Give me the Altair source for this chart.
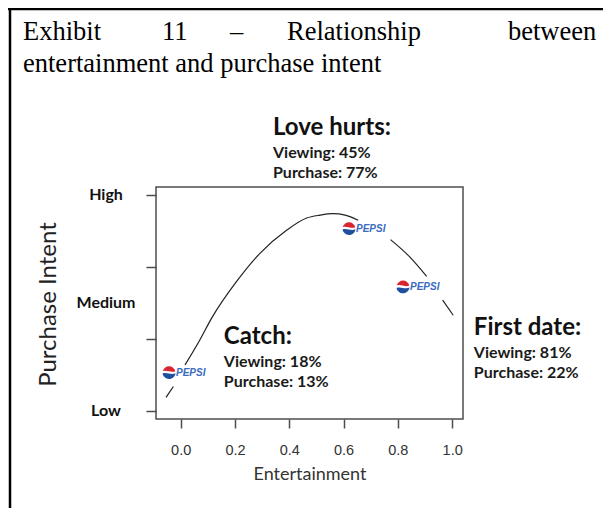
import altair as alt
import pandas as pd

# ---- data (y units: Low = 0 ... High = 3) ----
curve_seg = [1, 1, 2, 2, 2, 2, 2, 2, 2, 2, 2, 2, 2, 3, 3, 3, 4, 4]
curve_x = [-0.054, -0.027, 0.016, 0.071, 0.114, 0.206, 0.292, 0.390, 0.464,
           0.513, 0.561, 0.606, 0.654, 0.773, 0.841, 0.906, 0.965, 1.004]
curve_y = [0.19, 0.34, 0.64, 0.99, 1.29, 1.80, 2.19, 2.51, 2.68,
           2.72, 2.74, 2.72, 2.65, 2.38, 2.15, 1.87, 1.54, 1.33]

ads = ["Catch", "Love hurts", "First date"]
viewing = [18, 45, 81]
purchase = [13, 77, 22]
logo_x = [-0.043, 0.620, 0.819]
logo_y = [0.53, 2.53, 1.72]

y_tick_values = [0, 1, 2, 3]
y_label_text = ["Low", "Medium", "High"]
y_label_pos = [0, 1.5, 3]
x_tick_values = [0.0, 0.2, 0.4, 0.6, 0.8, 1.0]

title_line1 = ["Exhibit", "11", "\u2013", "Relationship", "between"]
title_line2 = "entertainment and purchase intent"

# ---- layout (annotation anchors in data units, title in pixels) ----
ann_x = [0.159, 0.340, 1.080]
ann_y = [1.028, 3.93, 1.153]
sub_gap = [0.347, 0.625]
title1_px = [-133, 6, 74, 131, 352]

X_DOM = [-0.091, 1.040]
Y_DOM = [-0.111, 3.111]

curve = pd.DataFrame({"seg": curve_seg, "x": curve_x, "y": curve_y})
logos = pd.DataFrame({"ad": ads, "x": logo_x, "y": logo_y})
heads = pd.DataFrame({"t": [a + ":" for a in ads], "x": ann_x, "y": ann_y})
subs = pd.DataFrame({
    "t": [f"Viewing: {v}%" for v in viewing] + [f"Purchase: {p}%" for p in purchase],
    "x": ann_x + ann_x,
    "y": [y - sub_gap[0] for y in ann_y] + [y - sub_gap[1] for y in ann_y],
})
ylab = pd.DataFrame({"t": y_label_text, "y": y_label_pos})

xs = alt.Scale(domain=X_DOM, nice=False, zero=False)
ys = alt.Scale(domain=Y_DOM, nice=False, zero=False)

X = alt.X("x:Q", scale=xs, axis=alt.Axis(
    values=x_tick_values, format=".1f", grid=False, domain=False,
    tickSize=9, tickColor="#4d4d4d", tickWidth=1.5,
    labelFont="Liberation Sans", labelFontSize=14.5, labelColor="#333333",
    labelPadding=15, title="Entertainment", titleFont="Lato",
    titleFontSize=18, titleFontWeight="normal", titleColor="#333333",
    titlePadding=9))
Y = alt.Y("y:Q", scale=ys, axis=alt.Axis(
    values=y_tick_values, labels=False, grid=False, domain=False,
    tickSize=10, tickColor="#4d4d4d", tickWidth=1.5,
    title="Purchase Intent", titleFont="Lato", titleFontSize=24,
    titleFontWeight="normal", titleColor="#222222",
    titleX=-108, titleY=117, titleAngle=270, titleBaseline="middle",
    titleAlign="center"))

line = alt.Chart(curve).mark_line(color="#222222", strokeWidth=1.2,
                                  interpolate="monotone").encode(
    x=X, y=Y, detail="seg:N")

red_path = "M -0.97 -0.25 A 1 1 0 0 1 0.97 -0.25 C 0.4 0.05 -0.4 -0.5 -0.97 -0.25 Z"
blue_path = "M -0.99 0.12 C -0.4 -0.15 0.4 0.4 0.99 0.05 A 1 1 0 0 1 -0.99 0.12 Z"

red = alt.Chart(logos).mark_point(shape=red_path, filled=True, size=169,
                                  color="#d7262f", opacity=1).encode(
    x=alt.X("x:Q", scale=xs), y=alt.Y("y:Q", scale=ys))
blue = alt.Chart(logos).mark_point(shape=blue_path, filled=True, size=169,
                                   color="#1f4f9e", opacity=1).encode(
    x=alt.X("x:Q", scale=xs), y=alt.Y("y:Q", scale=ys))
pepsi = alt.Chart(logos).mark_text(text="PEPSI", align="left", baseline="middle",
                                   dx=7, font="Liberation Sans", fontSize=10,
                                   fontStyle="italic", fontWeight="bold",
                                   color="#3a6cc0").encode(
    x=alt.X("x:Q", scale=xs), y=alt.Y("y:Q", scale=ys))

head_txt = alt.Chart(heads).mark_text(align="left", baseline="middle", font="Lato",
                                      fontSize=24, fontWeight="bold",
                                      color="#111111").encode(
    x=alt.X("x:Q", scale=xs), y=alt.Y("y:Q", scale=ys), text="t:N")
sub_txt = alt.Chart(subs).mark_text(align="left", baseline="middle", font="Lato",
                                    fontSize=16, fontWeight="bold",
                                    color="#1a1a1a").encode(
    x=alt.X("x:Q", scale=xs), y=alt.Y("y:Q", scale=ys), text="t:N")

ylab_txt = alt.Chart(ylab).mark_text(align="center", baseline="middle", font="Lato",
                                     fontSize=16, fontWeight="bold",
                                     color="#111111").encode(
    x=alt.value(-50), y=alt.Y("y:Q", scale=ys), text="t:N")

t1 = pd.DataFrame({"t": title_line1, "px": title1_px})
title1 = alt.Chart(t1).mark_text(align="left", baseline="alphabetic",
                                 font="Liberation Serif", fontSize=26.5,
                                 color="#000000").encode(
    x=alt.X("px:Q", scale=None), y=alt.value(-147), text="t:N")
title2 = alt.Chart(pd.DataFrame({"t": [title_line2]})).mark_text(
    align="left", baseline="alphabetic", font="Liberation Serif", fontSize=26.5,
    color="#000000").encode(x=alt.value(-133), y=alt.value(-115), text="t:N")

border_top = alt.Chart(pd.DataFrame({"a": [0]})).mark_rule(
    color="#000000", strokeWidth=2.5).encode(
    x=alt.value(-148), x2=alt.value(460), y=alt.value(-178))
border_left = alt.Chart(pd.DataFrame({"a": [0]})).mark_rule(
    color="#000000", strokeWidth=2.5).encode(
    x=alt.value(-146), y=alt.value(-179), y2=alt.value(330))

chart = alt.layer(
    line, red, blue, pepsi, head_txt, sub_txt, ylab_txt,
    title1, title2, border_top, border_left
).properties(
    width=307, height=232,
    autosize=alt.AutoSizeParams(type="none"),
    padding={"left": 148, "top": 179, "right": 140, "bottom": 89},
).configure_view(stroke="#4d4d4d", strokeWidth=1.5)

chart.save("out.html", embed_options={"renderer": "svg", "actions": False})
